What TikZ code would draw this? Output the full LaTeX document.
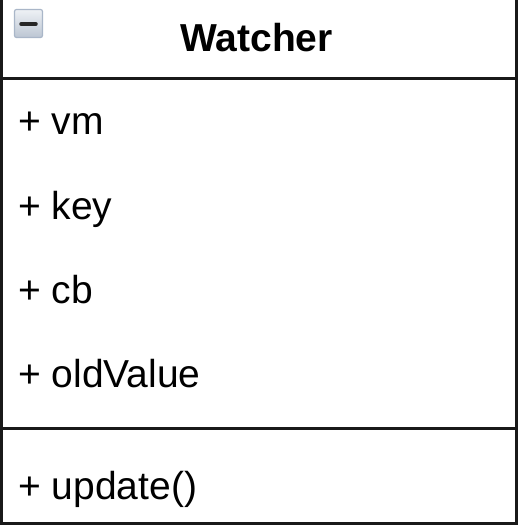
\documentclass[tikz,border=0pt]{standalone}
\usepackage{fontspec}
\setmainfont{Liberation Sans}

\definecolor{btnTop}{HTML}{EEF1F5}
\definecolor{btnBottom}{HTML}{BCC6D3}
\definecolor{btnEdge}{HTML}{A9B6C8}

\begin{document}
\begin{tikzpicture}[x = 1pt, y = -1pt,
	member/.style = {anchor = base west, inner sep = 0pt, font = \fontsize{39}{41}\selectfont},
	frame/.style = {line width = 3pt, draw = black!90}]
	
	\useasboundingbox (0, 0) rectangle (518, 526);
	
	% Class box w compartments
	
	\draw [frame] (1.5, -5) -- (1.5, 523.5) -- (516.5, 523.5) -- (516.5, -5);
	\draw [frame] (1.5, 78.5) -- (516.5, 78.5);
	\draw [frame] (1.5, 428) -- (516.5, 428);
	
	% Collapse button
	
	\draw [rounded corners = 2pt, draw = btnEdge, line width = 1.2pt, top color = btnTop, bottom color = btnBottom] (14.5, 9.5) rectangle (42.5, 37.5);
	\draw [line width = 3.5pt, line cap = round, draw = black!85] (21, 24) -- (36, 24);
	
	% Class name, attributes and operation
	
	\node [member, anchor = base, font = \bfseries\fontsize{39}{41}\selectfont] (name) at (256.5, 52) {Watcher};
	
	\foreach \attr/\y [count = \i] in {vm/135, key/219, cb/303, oldValue/387}
		\node [member] (attr\i) at (18, \y) {+ \attr};
		
	\node [member] (op) at (18, 499) {+ update()};
	
\end{tikzpicture}
\end{document}
